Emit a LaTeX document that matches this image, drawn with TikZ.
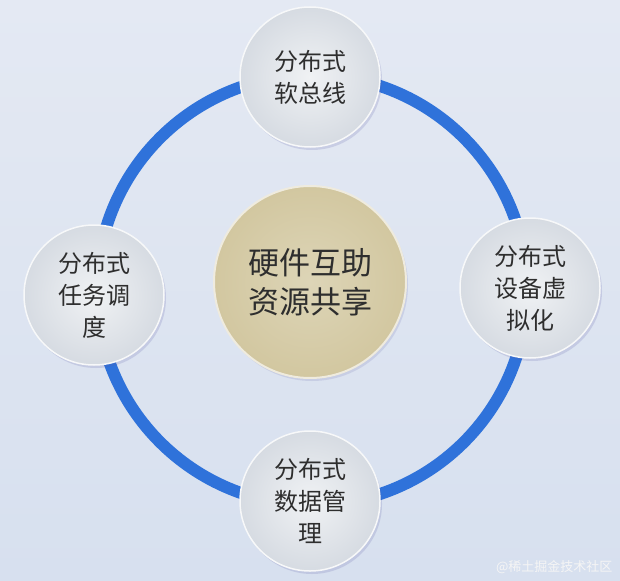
\documentclass[tikz,border=0pt]{standalone}
\usepackage{fontspec}
\setmainfont{Noto Sans CJK SC}
\usetikzlibrary{shadows}
\definecolor{bgtop}{HTML}{E4E9F3}
\definecolor{bgbot}{HTML}{D7E0EF}
\definecolor{ringblue}{HTML}{2F72DA}
\definecolor{nodeout}{HTML}{D6DBE2}
\definecolor{nodein}{HTML}{F0F2F4}
\definecolor{coreout}{HTML}{D2C7A0}
\definecolor{corein}{HTML}{DDD5B7}
\definecolor{txt}{HTML}{2E2E2E}
\tikzset{
  x=1pt,y=-1pt,
  bubble/.style={circle, minimum size=140pt, inner sep=0pt, align=center,
    inner color=nodein, outer color=nodeout, draw=white!80!nodeout, line width=1.5pt,
    text=txt, font=\fontsize{24}{32}\selectfont,
    drop shadow={shadow xshift=2pt, shadow yshift=-3pt, opacity=0.18, fill=gray!70!blue}},
  core/.style={circle, minimum size=192pt, inner sep=0pt, align=center,
    inner color=corein, outer color=coreout, draw=white!65!coreout, line width=2pt,
    text=txt, font=\fontsize{31}{39}\selectfont,
    drop shadow={shadow xshift=2pt, shadow yshift=-3pt, opacity=0.15, fill=gray!70!blue}},
  ringline/.style={draw=ringblue, line width=12pt}
}
\begin{document}
\begin{tikzpicture}
\useasboundingbox (0,0) rectangle (620,580);
\shade[top color=bgtop, bottom color=bgbot] (0,0) rectangle (620,580);
% ring
\node[circle, minimum width=430pt, inner sep=0pt, ringline] (ring) at (312,290) {};
% nodes
\node[bubble] (top) at (310,77) {分布式\\软总线};
\node[bubble] (right) at (530,288) {分布式\\设备虚\\拟化};
\node[bubble] (bottom) at (310,501) {分布式\\数据管\\理};
\node[bubble] (left) at (94,295) {分布式\\任务调\\度};
\node[core] (center) at (310,282) {硬件互助\\资源共享};
\node[text=white!92!gray, font=\fontsize{13}{13}\selectfont, anchor=east] (wm) at (616,567) {@稀土掘金技术社区};
\end{tikzpicture}
\end{document}
